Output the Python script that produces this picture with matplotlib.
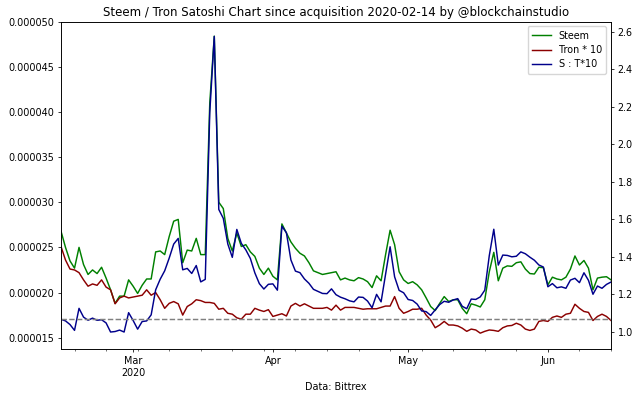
import numpy as np
import pandas as pd
import matplotlib
matplotlib.use("Agg")
import matplotlib.pyplot as plt
import matplotlib.dates as mdates
from matplotlib.ticker import FormatStrFormatter, MultipleLocator

# daily close in BTC satoshi units (x1e-6)
steem = np.array([
    26.8, 25.0, 23.5, 22.7, 25.0, 23.1, 22.0, 22.5, 22.1, 22.8,
    21.6, 20.3, 18.8, 19.6, 19.6, 21.4, 20.7, 19.9, 20.8, 21.5,
    21.5, 24.5, 24.6, 24.2, 26.2, 27.9, 28.1, 23.3, 24.7, 24.6,
    26.0, 24.2, 24.2, 41.0, 48.4, 30.0, 29.3, 26.0, 24.6, 26.6,
    25.1, 25.3, 24.5, 24.0, 22.7, 22.0, 22.7, 21.8, 21.4, 27.6,
    26.6, 25.6, 24.9, 24.35, 24.05, 23.3, 22.4, 22.2, 22.0, 22.1,
    22.2, 22.3, 21.4, 21.6, 21.4, 21.3, 21.65, 21.5, 21.2, 20.55,
    21.85, 21.3, 24.2, 26.9, 25.3, 22.3, 21.4, 21.0, 21.2, 20.85,
    20.3, 19.4, 18.45, 18.0, 18.8, 19.55, 19.0, 19.2, 19.2, 18.25,
    17.65, 18.75, 18.6, 18.4, 19.2, 22.3, 24.45, 21.3, 22.7, 22.95,
    22.9, 23.3, 23.4, 22.6, 22.1, 22.05, 22.8, 22.75, 20.85, 21.7,
    21.5, 21.4, 21.7, 22.6, 24.05, 23.05, 23.55, 22.7, 20.3, 21.6,
    21.7, 21.75, 21.4,
]) * 1e-6

tron10 = np.array([
    25.1, 23.6, 22.6, 22.5, 22.2, 21.4, 20.7, 20.95, 20.8, 21.4,
    20.6, 20.3, 18.75, 19.4, 19.6, 19.4, 19.5, 19.6, 19.7, 20.3,
    19.7, 20.0, 19.2, 18.25, 18.8, 19.0, 18.75, 17.5, 18.45, 18.75,
    19.2, 19.1, 18.9, 18.9, 18.8, 18.15, 18.25, 17.7, 17.6, 17.2,
    17.05, 17.6, 17.6, 18.25, 18.05, 17.9, 18.1, 17.35, 17.5, 17.65,
    17.4, 18.5, 18.8, 18.5, 18.75, 18.5, 18.25, 18.25, 18.25, 18.35,
    18.05, 18.6, 18.05, 18.35, 18.35, 18.35, 18.25, 18.15, 18.2, 18.2,
    18.2, 18.35, 18.5, 18.5, 19.55, 18.25, 17.7, 17.9, 18.15, 18.15,
    18.25, 17.5, 16.95, 16.1, 16.4, 16.8, 16.4, 16.4, 16.3, 16.05,
    15.7, 15.95, 15.85, 15.5, 15.7, 15.85, 15.8, 15.7, 16.1, 16.3,
    16.35, 16.6, 16.4, 15.95, 15.8, 15.95, 16.8, 16.9, 16.8, 17.25,
    17.4, 17.25, 17.6, 17.7, 18.7, 18.25, 17.9, 17.8, 16.9, 17.35,
    17.6, 17.35, 16.9,
]) * 1e-6

dates = pd.date_range("2020-02-14", periods=len(steem), freq="D")
ratio = steem / tron10

month_ticks = pd.to_datetime(["2020-03-01", "2020-04-01", "2020-05-01", "2020-06-01"])
month_labels = ["Mar\n2020", "Apr", "May", "Jun"]
right_ticks = [1.0, 1.2, 1.4, 1.6, 1.8, 2.0, 2.2, 2.4, 2.6]

fs = 6.9
fig = plt.figure(figsize=(6.4, 3.98), dpi=100)
ax = fig.add_axes([0.0953, 0.1219, 0.8594, 0.8236])
ax2 = ax.twinx()

l1, = ax.plot(dates, steem, color="green", lw=1.05, label="Steem")
l2, = ax.plot(dates, tron10, color="darkred", lw=1.05, label="Tron * 10")
l3, = ax2.plot(dates, ratio, color="darkblue", lw=1.05, label="S : T*10")
ax2.axhline(ratio[0], color="gray", ls="--", lw=1.05)

ax.set_xlim(dates[0], dates[-1])
ax.set_ylim(13.69e-6, 50e-6)
ax2.set_ylim(0.907, 2.653)

ax.yaxis.set_major_locator(MultipleLocator(5e-6))
ax.yaxis.set_major_formatter(FormatStrFormatter("%.6f"))
ax2.set_yticks(right_ticks)
ax2.yaxis.set_major_formatter(FormatStrFormatter("%.1f"))

ax.set_xticks(month_ticks)
ax.set_xticklabels(month_labels)
ax.xaxis.set_minor_locator(mdates.WeekdayLocator(byweekday=mdates.MO))

for a in (ax, ax2):
    a.tick_params(axis="both", which="major", labelsize=fs, length=2.4, width=0.55, pad=2.4)
    a.tick_params(axis="both", which="minor", length=1.4, width=0.4)
    for s in a.spines.values():
        s.set_linewidth(0.55)

ax.set_title("Steem / Tron Satoshi Chart since acquisition 2020-02-14 by @blockchainstudio",
             fontsize=8.5, pad=4)
ax.set_xlabel("Data: Bittrex", fontsize=fs, labelpad=3)

ax2.legend(handles=[l1, l2, l3], loc="upper right", fontsize=fs,
           borderpad=0.45, labelspacing=0.45, handlelength=2.0, framealpha=0.8)

fig.savefig("out.png", dpi=100)
